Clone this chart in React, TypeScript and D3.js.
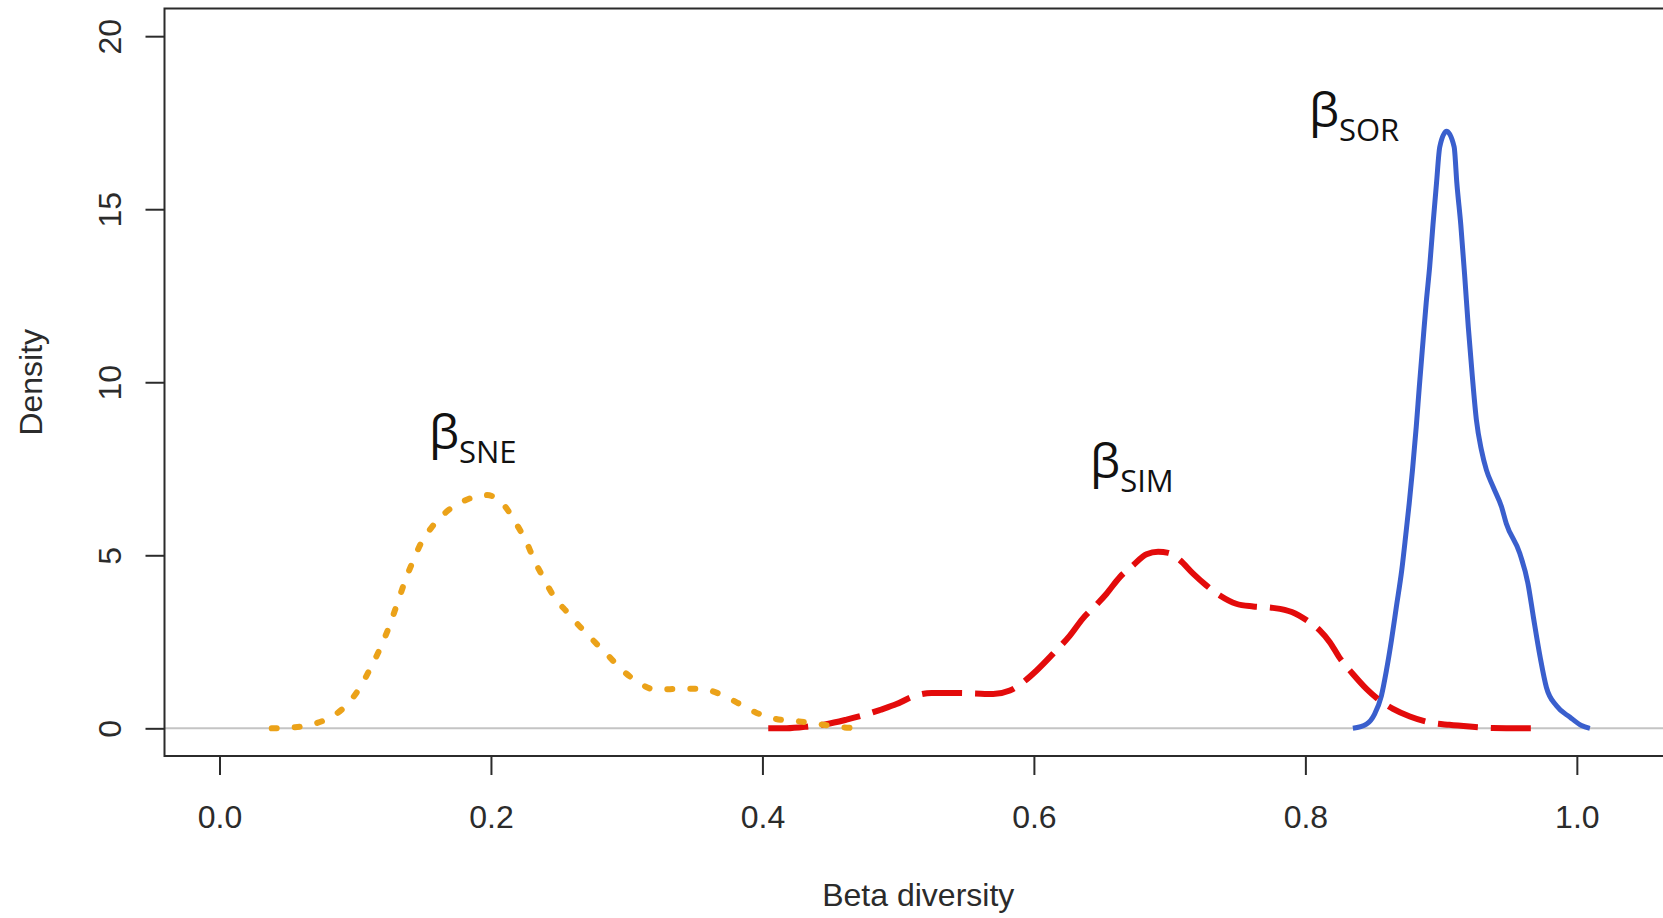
import React, { useEffect, useRef } from "react";
import * as d3 from "d3";

// density curves
const sneX = [0.0385, 0.0556, 0.0716, 0.085, 0.095, 0.1035, 0.111, 0.1187, 0.125, 0.1305, 0.136, 0.1423, 0.149, 0.157, 0.167, 0.18, 0.1968, 0.21, 0.218, 0.2258, 0.2317, 0.239, 0.2464, 0.256, 0.266, 0.2766, 0.2864, 0.296, 0.3085, 0.322, 0.337, 0.354, 0.3687, 0.381, 0.395, 0.41, 0.427, 0.442, 0.4595, 0.4767];
const sneY = [0, 0.03, 0.15, 0.39, 0.73, 1.18, 1.72, 2.34, 2.94, 3.55, 4.18, 4.81, 5.39, 5.84, 6.25, 6.57, 6.74, 6.43, 5.95, 5.41, 4.88, 4.32, 3.81, 3.36, 2.92, 2.49, 2.1, 1.71, 1.33, 1.11, 1.14, 1.14, 0.99, 0.75, 0.46, 0.27, 0.2, 0.12, 0.03, 0];

const simX = [0.4043, 0.4178, 0.435, 0.447, 0.462, 0.4755, 0.4865, 0.4988, 0.511, 0.5246, 0.5405, 0.555, 0.57, 0.5823, 0.592, 0.602, 0.614, 0.6265, 0.636, 0.6473, 0.6535, 0.6633, 0.673, 0.683, 0.6915, 0.699, 0.7075, 0.7173, 0.727, 0.737, 0.749, 0.7615, 0.776, 0.79, 0.801, 0.8106, 0.818, 0.825, 0.835, 0.845, 0.855, 0.8646, 0.877, 0.8916, 0.906, 0.921, 0.938, 0.958, 0.9726];
const simY = [0, 0, 0.06, 0.12, 0.25, 0.39, 0.53, 0.7, 0.92, 1.02, 1.02, 1.01, 0.99, 1.09, 1.33, 1.67, 2.15, 2.68, 3.17, 3.62, 3.89, 4.37, 4.71, 5.03, 5.1, 5.07, 4.86, 4.47, 4.13, 3.84, 3.6, 3.52, 3.48, 3.36, 3.12, 2.83, 2.49, 2.05, 1.57, 1.14, 0.8, 0.56, 0.34, 0.17, 0.1, 0.05, 0.01, 0, 0];

const sorX = [0.835, 0.845, 0.851, 0.856, 0.8597, 0.8634, 0.867, 0.871, 0.874, 0.8765, 0.879, 0.8817, 0.884, 0.8867, 0.889, 0.8916, 0.894, 0.8966, 0.899, 0.904, 0.9096, 0.9116, 0.9145, 0.9174, 0.92, 0.923, 0.926, 0.9297, 0.9334, 0.9383, 0.9445, 0.948, 0.958, 0.964, 0.968, 0.973, 0.9776, 0.985, 0.995, 1.0034, 1.0096];
const sorY = [0, 0.12, 0.41, 0.94, 1.67, 2.54, 3.5, 4.57, 5.6, 6.5, 7.5, 8.72, 9.9, 11.2, 12.29, 13.35, 14.55, 15.75, 16.8, 17.25, 16.8, 15.75, 14.55, 13.06, 11.61, 10.17, 8.91, 8.04, 7.46, 6.98, 6.4, 5.92, 5.05, 4.18, 3.21, 2.05, 1.18, 0.65, 0.32, 0.08, 0];

const xTicks = [0, 0.2, 0.4, 0.6, 0.8, 1.0];
const yTicks = [0, 5, 10, 15, 20];

// label anchors in data units
const labelNames = ["SNE", "SIM", "SOR"];
const labelX = [0.1543, 0.6414, 0.8026];
const labelY = [8.06, 7.22, 17.39];

const App = () => {
  const chartRef = useRef(null);

  useEffect(() => {
    drawChart();
  }, []);

  const drawChart = () => {
    const width = 1663;
    const height = 918;
    const axisFont = "'Liberation Sans', Arial, sans-serif";
    const ink = "#2b2b2b";

    const svg = d3.select(chartRef.current);
    svg.selectAll("*").remove();
    svg.attr("width", width).attr("height", height);

    // R-style 4% padded limits
    const x = d3.scaleLinear().domain([-0.0405, 1.0701]).range([164.5, 1672]);
    const y = d3.scaleLinear().domain([-0.8, 20.8]).range([756, 8.5]);

    // zero reference line
    svg
      .append("line")
      .attr("x1", x.range()[0])
      .attr("x2", x.range()[1])
      .attr("y1", y(0))
      .attr("y2", y(0))
      .attr("stroke", "#c4c4c4")
      .attr("stroke-width", 2);

    const makeLine = (xs, ys) =>
      d3
        .line()
        .x((d, i) => x(xs[i]))
        .y((d, i) => y(ys[i]))
        .curve(d3.curveMonotoneX)(xs);

    // beta SOR (solid blue)
    svg
      .append("path")
      .attr("d", makeLine(sorX, sorY))
      .attr("fill", "none")
      .attr("stroke", "#3a5fcd")
      .attr("stroke-width", 5)
      .attr("stroke-linejoin", "round");

    // beta SIM (dashed red)
    svg
      .append("path")
      .attr("d", makeLine(simX, simY))
      .attr("fill", "none")
      .attr("stroke", "#e30b0b")
      .attr("stroke-width", 6)
      .attr("stroke-dasharray", "40 13");

    // beta SNE (dotted orange)
    svg
      .append("path")
      .attr("d", makeLine(sneX, sneY))
      .attr("fill", "none")
      .attr("stroke", "#eba219")
      .attr("stroke-width", 6)
      .attr("stroke-linecap", "round")
      .attr("stroke-dasharray", "5 18");

    // box
    svg
      .append("rect")
      .attr("x", x.range()[0])
      .attr("y", y.range()[1])
      .attr("width", x.range()[1] - x.range()[0])
      .attr("height", y.range()[0] - y.range()[1])
      .attr("fill", "none")
      .attr("stroke", ink)
      .attr("stroke-width", 2);

    // x axis
    const gx = svg
      .append("g")
      .attr("transform", `translate(0,${y.range()[0]})`)
      .call(d3.axisBottom(x).tickValues(xTicks).tickFormat(d3.format(".1f")).tickSize(19));
    gx.select(".domain").remove();
    gx.selectAll("line").attr("stroke", ink).attr("stroke-width", 2);
    gx.selectAll("text")
      .attr("y", 72)
      .attr("dy", 0)
      .attr("fill", ink)
      .attr("font-size", 32)
      .attr("font-family", axisFont);

    // y axis with rotated labels
    const gy = svg
      .append("g")
      .attr("transform", `translate(${x.range()[0]},0)`)
      .call(d3.axisLeft(y).tickValues(yTicks).tickSize(19));
    gy.select(".domain").remove();
    gy.selectAll("line").attr("stroke", ink).attr("stroke-width", 2);
    gy.selectAll("text")
      .attr("x", 0)
      .attr("dy", 0)
      .attr("text-anchor", "middle")
      .attr("transform", "translate(-44,0) rotate(-90)")
      .attr("fill", ink)
      .attr("font-size", 32)
      .attr("font-family", axisFont);

    // axis titles
    svg
      .append("text")
      .attr("x", (x.range()[0] + x.range()[1]) / 2)
      .attr("y", 906)
      .attr("text-anchor", "middle")
      .attr("fill", ink)
      .attr("font-size", 32)
      .attr("font-family", axisFont)
      .text("Beta diversity");

    svg
      .append("text")
      .attr("transform", `translate(42,${(y.range()[0] + y.range()[1]) / 2}) rotate(-90)`)
      .attr("text-anchor", "middle")
      .attr("fill", ink)
      .attr("font-size", 32)
      .attr("font-family", axisFont)
      .text("Density");

    // beta labels
    labelNames.forEach((name, i) => {
      const t = svg
        .append("text")
        .attr("x", x(labelX[i]))
        .attr("y", y(labelY[i]))
        .attr("fill", "#111")
        .attr("font-family", "'Open Sans', 'Noto Sans', sans-serif");
      t.append("tspan").attr("font-size", 48).text("β");
      t.append("tspan").attr("font-size", 31).attr("dy", 14).text(name);
    });
  };

  return <svg ref={chartRef} style={{ position: "absolute", left: 0, top: 0 }}></svg>;
};

export default App;
